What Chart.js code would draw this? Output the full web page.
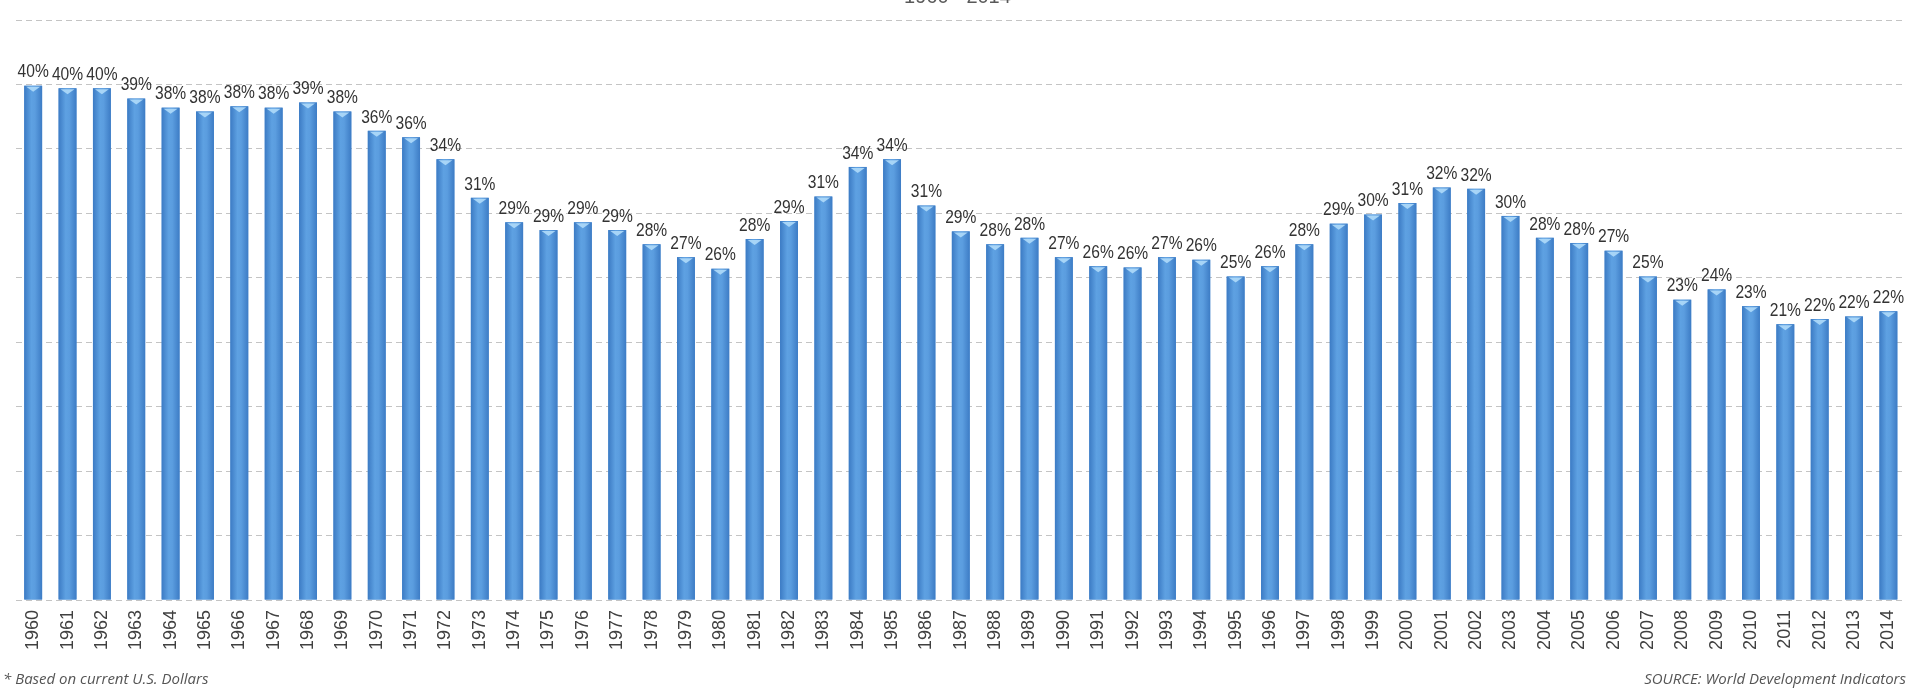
<!DOCTYPE html>
<html>
<head>
<meta charset="utf-8">
<script src="https://cdn.jsdelivr.net/npm/chart.js@4"></script>
<style>
    html, body { margin: 0; padding: 0; background: #fff; overflow: hidden; }
    #wrap { position: relative; width: 1920px; height: 693px; }
    #title { position: absolute; top: -15px; left: 0; width: 1915px; text-align: center;
        font: 20px "Liberation Sans", Arial, sans-serif; color: #595959; }
    .note { position: absolute; top: 668px; font: italic 15px "Open Sans", sans-serif; color: #555; }
    #left-note { left: 3px; }
    #right-note { right: 14px; }
</style>
</head>
<body>
<div id="wrap">
    <canvas id="chart" width="1920" height="693"></canvas>
    <div id="title">1960 - 2014</div>
    <div class="note" id="left-note">* Based on current U.S. Dollars</div>
    <div class="note" id="right-note">SOURCE: World Development Indicators</div>
</div>
<script>
let years = [];
for (let y = 1960; y <= 2014; y++) years.push(String(y));

// share in %
let shares = [
    39.9, 39.7, 39.7, 38.9, 38.2, 37.9, 38.3, 38.2, 38.6, 37.9,
    36.4, 35.9, 34.2, 31.2, 29.3, 28.7, 29.3, 28.7, 27.6, 26.6,
    25.7, 28.0, 29.4, 31.3, 33.6, 34.2, 30.6, 28.6, 27.6, 28.1,
    26.6, 25.9, 25.8, 26.6, 26.4, 25.1, 25.9, 27.6, 29.2, 29.9,
    30.8, 32.0, 31.9, 29.8, 28.1, 27.7, 27.1, 25.1, 23.3, 24.1,
    22.8, 21.4, 21.8, 22.0, 22.4
];

let yTicks = [0, 5, 10, 15, 20, 25, 30, 35, 40, 45];

// cylinder look: darker edges, light middle, light cap on top
const barShading = {
    id: "barShading",
    afterDatasetsDraw(chart) {
        let ctx = chart.ctx;
        ctx.save();
        chart.getDatasetMeta(0).data.forEach(bar => {
            let half = bar.width / 2;
            let g = ctx.createLinearGradient(bar.x - half, 0, bar.x + half, 0);
            g.addColorStop(0, "#3c7bc4");
            g.addColorStop(0.4, "#5ea1e2");
            g.addColorStop(0.6, "#5b9ddf");
            g.addColorStop(1, "#3d7cc5");
            ctx.fillStyle = g;
            ctx.fillRect(bar.x - half, bar.y, bar.width, bar.base - bar.y);

            ctx.fillStyle = "rgba(175, 218, 250, 0.9)";
            ctx.beginPath();
            ctx.moveTo(bar.x - half + 2, bar.y + 1);
            ctx.lineTo(bar.x + half - 2, bar.y + 1);
            ctx.lineTo(bar.x, bar.y + 6);
            ctx.closePath();
            ctx.fill();
        });
        ctx.restore();
    }
};

// draws the "40%" labels over the bars
const barLabels = {
    id: "barLabels",
    afterDatasetsDraw(chart) {
        let ctx = chart.ctx;
        let meta = chart.getDatasetMeta(0);
        ctx.save();
        ctx.fillStyle = "#333";
        ctx.font = "19px 'Liberation Sans', Arial, sans-serif";
        ctx.textAlign = "center";
        ctx.textBaseline = "bottom";
        meta.data.forEach((bar, i) => {
            ctx.save();
            ctx.translate(bar.x, bar.y - 4);
            ctx.scale(0.82, 1);
            ctx.fillText(Math.round(shares[i]) + "%", 0, 0);
            ctx.restore();
        });
        ctx.restore();
    }
};

new Chart(document.getElementById("chart"), {
    type: "bar",
    data: {
        labels: years,
        datasets: [{
            data: shares,
            backgroundColor: "#4a8ed6",
            borderWidth: 0,
            categoryPercentage: 1,
            barPercentage: 0.52
        }]
    },
    options: {
        responsive: false,
        animation: false,
        layout: { padding: { top: 20, left: 16, right: 0, bottom: 0 } },
        plugins: {
            legend: { display: false },
            tooltip: { enabled: false }
        },
        scales: {
            x: {
                grid: { display: false, drawTicks: false },
                border: { display: false },
                ticks: {
                    color: "#404040",
                    font: { family: "'Liberation Sans', Arial, sans-serif", size: 18 },
                    minRotation: 90,
                    maxRotation: 90,
                    autoSkip: false,
                    padding: 10
                },
                afterFit: s => { s.height = 93; }
            },
            y: {
                min: 0,
                max: 45,
                afterBuildTicks: s => { s.ticks = yTicks.map(v => ({ value: v })); },
                ticks: { display: false },
                grid: { color: "#c4c4c4", lineWidth: 1, drawTicks: false },
                border: { display: false, dash: [6, 4] },
                afterFit: s => { s.width = 0; }
            }
        }
    },
    plugins: [barShading, barLabels]
});
</script>
</body>
</html>
